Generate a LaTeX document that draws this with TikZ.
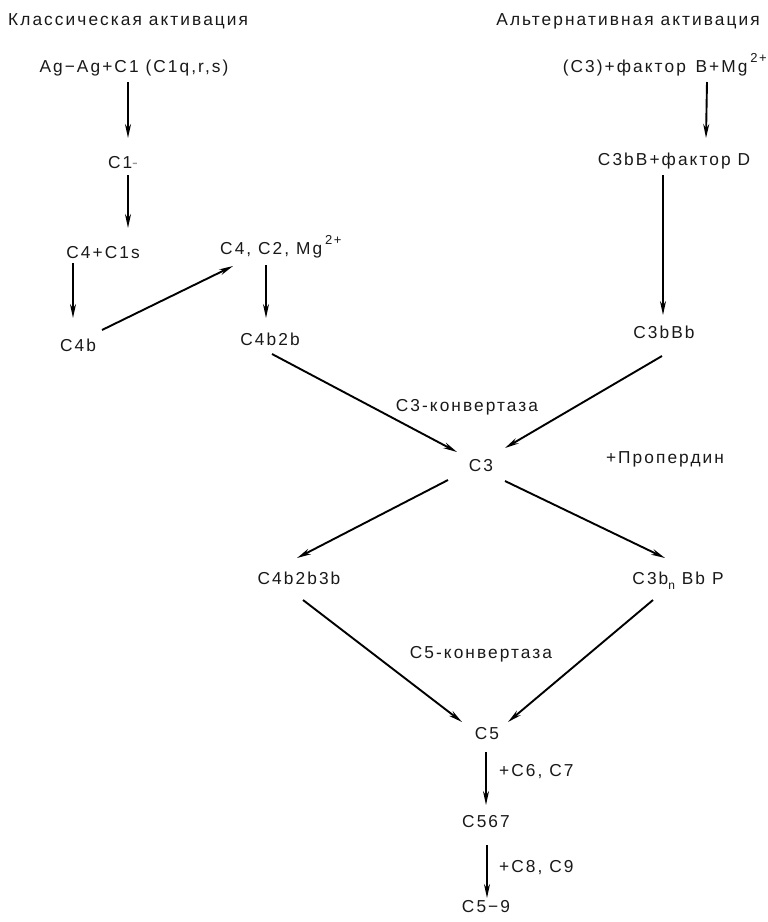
\documentclass[tikz,border=0pt]{standalone}
\usepackage{fontspec}
\setmainfont{Liberation Sans}[LetterSpace=12]
\usetikzlibrary{arrows.meta}
\tikzset{
  lbl/.style={inner sep=0pt, text height=12.5pt, text depth=3.5pt,
    font=\fontsize{17.3}{20}\selectfont, text=black!90},
  arr/.style={line width=1.9pt, -{Stealth[length=14pt,width=6pt]}},
}
\newcommand{\supr}[1]{\raisebox{1.1ex}{\fontsize{13}{13}\selectfont #1}}
\newcommand{\subr}[1]{\raisebox{-0.6ex}{\fontsize{12}{12}\selectfont #1}}
\begin{document}
\begin{tikzpicture}[x=1pt,y=-1pt]
\useasboundingbox[fill=white] (0,0) rectangle (768,922);

% headings
\node[lbl, anchor=west] (t1) at (8,21) {Классическая активация};
\node[lbl, anchor=east] (t2) at (760,21) {Альтернативная активация};

% classical pathway
\node[lbl] (ag)    at (134,68)  {Ag−Ag+C1 (C1q,r,s)};
\node[lbl] (c1)    at (123,164) {C1\textcolor{black!40}{-}};
\node[lbl] (c4c1s) at (103,254) {C4+C1s};
\node[lbl] (c4b)   at (78,347)  {C4b};
\node[lbl, anchor=west] (c4c2) at (220,250) {C4, C2, Mg\,\supr{2+}};
\node[lbl] (c4b2b) at (270,341) {C4b2b};

% alternative pathway
\node[lbl, anchor=east] (fb) at (767,68) {(C3)+фактор\, B+Mg\,\supr{2+}};
\node[lbl] (c3bbd) at (674,161) {C3bB+фактор D};
\node[lbl] (c3bbb) at (664,334) {C3bBb};

% common part
\node[lbl] (conv3) at (467,407) {C3-конвертаза};
\node[lbl] (c3)    at (481,467) {C3};
\node[lbl] (prop)  at (665,459) {+Пропердин};
\node[lbl] (c4b2b3b) at (299,580) {C4b2b3b};
\node[lbl] (c3bp)  at (678,580) {C3b\subr{n} Bb P};
\node[lbl] (conv5) at (481,654) {C5-конвертаза};
\node[lbl] (c5)    at (487,735) {C5};
\node[lbl, anchor=west] (c67) at (499,772) {+C6, C7};
\node[lbl] (c567)  at (486,823) {C567};
\node[lbl, anchor=west] (c89) at (499,868) {+C8, C9};
\node[lbl] (c59)   at (486,908) {C5−9};

% reaction arrows
\draw[arr] ([shift={(-6,14)}]ag.center) -- ([shift={(5,-26)}]c1.center);
\draw[arr] ([shift={(5,11)}]c1.center) -- ([shift={(25,-26)}]c4c1s.center);
\draw[arr] ([shift={(-30,9)}]c4c1s.center) -- ([shift={(-5,-29)}]c4b.center);
\draw[arr] ([shift={(24,-17)}]c4b.center) -- ([shift={(13,16)}]c4c2.west);
\draw[arr] ([shift={(46,15)}]c4c2.west) -- ([shift={(-4,-23)}]c4b2b.center);

\draw[arr] ([shift={(-60,14)}]fb.east) -- ([shift={(32,-23)}]c3bbd.center);
\draw[arr] ([shift={(-11,14)}]c3bbd.center) -- ([shift={(-1,-19)}]c3bbb.center);

\draw[arr] ([shift={(2,13)}]c4b2b.center) -- ([shift={(-24,-15)}]c3.center);
\draw[arr] ([shift={(-2,22)}]c3bbb.center) -- ([shift={(24,-19)}]c3.center);
\draw[arr] ([shift={(-33,13)}]c3.center) -- ([shift={(-2,-22)}]c4b2b3b.center);
\draw[arr] ([shift={(24,14)}]c3.center) -- ([shift={(-13,-22)}]c3bp.center);
\draw[arr] ([shift={(4,20)}]c4b2b3b.center) -- ([shift={(-25,-13)}]c5.center);
\draw[arr] ([shift={(-25,20)}]c3bp.center) -- ([shift={(21,-13)}]c5.center);
\draw[arr] ([shift={(-1,17)}]c5.center) -- ([shift={(0,-18)}]c567.center);
\draw[arr] ([shift={(1,22)}]c567.center) -- ([shift={(1,-10)}]c59.center);
\end{tikzpicture}
\end{document}
